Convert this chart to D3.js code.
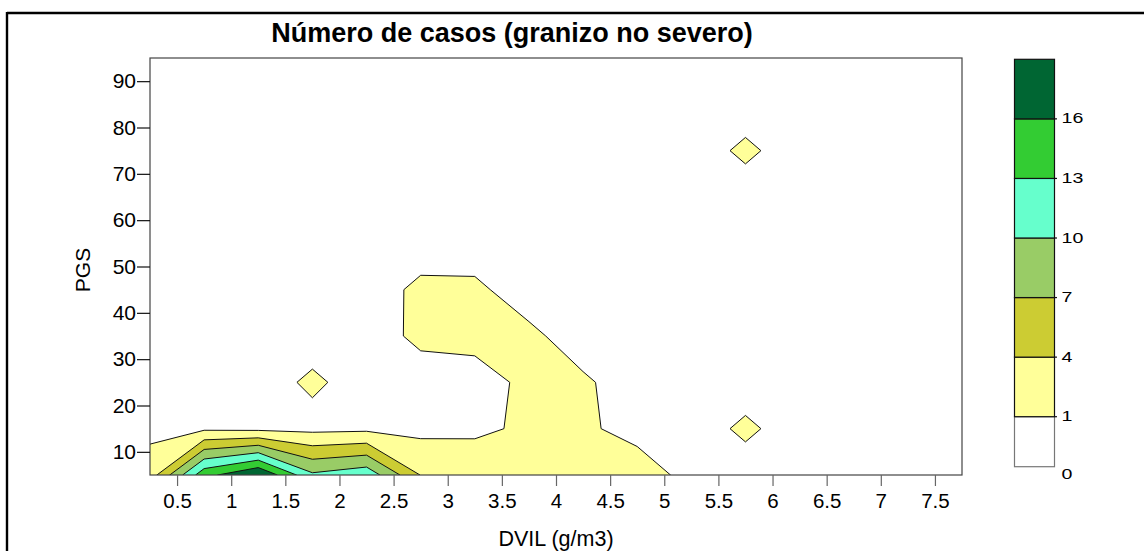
<!DOCTYPE html>
<html>
<head>
<meta charset="utf-8">
<script src="https://cdn.jsdelivr.net/npm/d3@7"></script>
<style>
  body { margin: 0; background: #fff; }
  svg { display: block; font-family: "Liberation Sans", Arial, sans-serif; }
</style>
</head>
<body>
<svg id="chart" width="1144" height="551"></svg>
<script>
// Grid nodes: DVIL (g/m3) columns and PGS rows
const dvil = [0.25, 0.75, 1.25, 1.75, 2.25, 2.75, 3.25, 3.75, 4.25, 4.75, 5.25, 5.75, 6.25, 6.75, 7.25, 7.75];
const pgs = [5, 15, 25, 35, 45, 55, 65, 75, 85, 95];

// Gridded number of cases, one row per PGS value (bottom to top), one value per DVIL column
const pgs05 = [2.4, 15, 19, 10.5, 12, 3.9, 3.5, 3.0, 2.8, 2.6, 0, 0, 0, 0, 0, 0];
const pgs15 = [0.3, 0.5, 0.3, 0.2, 0.35, 0.2, 0.3, 1.6, 1.5, 0, 0, 1.4, 0, 0, 0, 0];
const pgs25 = [0, 0, 0, 1.4, 0, 0, 0, 1.55, 1.3, 0, 0, 0, 0, 0, 0, 0];
const pgs35 = [0, 0, 0, 0, 0, 1.47, 1.75, 1.45, 0, 0, 0, 0, 0, 0, 0, 0];
const pgs45 = [0, 0, 0, 0, 0, 1.45, 1.4, 0, 0, 0, 0, 0, 0, 0, 0, 0];
const pgs55 = [0, 0, 0, 0, 0, 0, 0, 0, 0, 0, 0, 0, 0, 0, 0, 0];
const pgs65 = [0, 0, 0, 0, 0, 0, 0, 0, 0, 0, 0, 0, 0, 0, 0, 0];
const pgs75 = [0, 0, 0, 0, 0, 0, 0, 0, 0, 0, 0, 1.4, 0, 0, 0, 0];
const pgs85 = [0, 0, 0, 0, 0, 0, 0, 0, 0, 0, 0, 0, 0, 0, 0, 0];
const pgs95 = [0, 0, 0, 0, 0, 0, 0, 0, 0, 0, 0, 0, 0, 0, 0, 0];

// Contour levels and their fills
const levels = [1, 4, 7, 10, 13, 16];
const levelColors = ["#ffff99", "#cccc33", "#99cc66", "#66ffcc", "#33cc33", "#006633"];

// Colour key: band edges, colours, labels
const keyEdges = [0, 1, 4, 7, 10, 13, 16, 19];
const keyColors = ["#ffffff", "#ffff99", "#cccc33", "#99cc66", "#66ffcc", "#33cc33", "#006633"];
const keyLabels = ["0", "1", "4", "7", "10", "13", "16"];

// Axis ticks
const xTicks = [0.5, 1, 1.5, 2, 2.5, 3, 3.5, 4, 4.5, 5, 5.5, 6, 6.5, 7, 7.5];
const yTicks = [10, 20, 30, 40, 50, 60, 70, 80, 90];

const titleText = "Número de casos (granizo no severo)";
const xTitle = "DVIL (g/m3)";
const yTitle = "PGS";

const svg = d3.select("#chart");
const plot = { left: 150, top: 58, right: 962, bottom: 475 };

const x = d3.scaleLinear().domain([0.25, 7.75]).range([plot.left, plot.right]);
const y = d3.scaleLinear().domain([5, 95]).range([plot.bottom, plot.top]);

// Outer frame (top and left edges)
svg.append("line").attr("x1", 7).attr("x2", 1144).attr("y1", 13).attr("y2", 13)
  .attr("stroke", "#000").attr("stroke-width", 2.4);
svg.append("line").attr("x1", 7).attr("x2", 7).attr("y1", 12).attr("y2", 551)
  .attr("stroke", "#000").attr("stroke-width", 2.4);

// Title
svg.append("text").attr("x", 512).attr("y", 41.5).attr("text-anchor", "middle")
  .attr("font-size", 27).attr("font-weight", "bold").text(titleText);

// Contour fill
const rows = [pgs05, pgs15, pgs25, pgs35, pgs45, pgs55, pgs65, pgs75, pgs85, pgs95];
const values = rows.flat();
const nx = dvil.length, ny = pgs.length;
const contours = d3.contours().size([nx, ny]).thresholds(levels)(values);

// grid index space -> data -> pixels (node i sits at index coordinate i + 0.5)
const gx = d3.scaleLinear().domain([0.5, nx - 0.5]).range([x(dvil[0]), x(dvil[nx - 1])]);
const gy = d3.scaleLinear().domain([0.5, ny - 0.5]).range([y(pgs[0]), y(pgs[ny - 1])]);
const path = d3.geoPath(d3.geoTransform({
  point(px, py) { this.stream.point(gx(px), gy(py)); }
}));

svg.append("clipPath").attr("id", "plotClip").append("rect")
  .attr("x", plot.left).attr("y", plot.top)
  .attr("width", plot.right - plot.left).attr("height", plot.bottom - plot.top);

const color = d3.scaleOrdinal().domain(levels).range(levelColors);
svg.append("g").attr("clip-path", "url(#plotClip)")
  .selectAll("path").data(contours).join("path")
  .attr("d", path)
  .attr("fill", d => color(d.value))
  .attr("stroke", "#111")
  .attr("stroke-width", 1)
  .attr("stroke-linejoin", "round");

// Plot frame
svg.append("rect").attr("x", plot.left).attr("y", plot.top)
  .attr("width", plot.right - plot.left).attr("height", plot.bottom - plot.top)
  .attr("fill", "none").attr("stroke", "#444").attr("stroke-width", 1.2);

// Axes
const yAxis = svg.append("g").attr("transform", `translate(${plot.left},0)`)
  .call(d3.axisLeft(y).tickValues(yTicks).tickSize(13).tickPadding(1));
yAxis.select(".domain").remove();
yAxis.selectAll(".tick line").attr("stroke", "#111").attr("stroke-width", 1.2);
yAxis.selectAll("text").attr("font-size", 21).attr("fill", "#000")
  .attr("font-family", "Liberation Sans, Arial, sans-serif");

const xAxis = svg.append("g").attr("transform", `translate(0,${plot.bottom})`)
  .call(d3.axisBottom(x).tickValues(xTicks).tickSize(11).tickPadding(7).tickFormat(d => String(d)));
xAxis.select(".domain").remove();
xAxis.selectAll(".tick line").attr("stroke", "#666").attr("stroke-width", 1.2);
xAxis.selectAll("text").attr("font-size", 20.5).attr("fill", "#000")
  .attr("font-family", "Liberation Sans, Arial, sans-serif");

// Axis titles
svg.append("text").attr("transform", "translate(90,270) rotate(-90)")
  .attr("text-anchor", "middle").attr("font-size", 21).text(yTitle);
svg.append("text").attr("x", 556).attr("y", 546).attr("text-anchor", "middle")
  .attr("font-size", 21.5).text(xTitle);

// Colour key
const key = { left: 1014.5, right: 1054.5 };
const ky = d3.scaleLinear().domain([0, 1, 19]).range([466.7, 416.7, 59.3]);
const bands = d3.range(keyColors.length).map(i => ({ lo: keyEdges[i], hi: keyEdges[i + 1], c: keyColors[i] }));
const keyG = svg.append("g");
keyG.selectAll("rect").data(bands).join("rect")
  .attr("x", key.left).attr("width", key.right - key.left)
  .attr("y", d => ky(d.hi)).attr("height", d => ky(d.lo) - ky(d.hi))
  .attr("fill", d => d.c)
  .attr("stroke", d => d.lo === 0 ? "#777" : "#111")
  .attr("stroke-width", 1.2);
keyG.selectAll("line.tick").data(keyEdges.slice(1, -1)).join("line")
  .attr("class", "tick")
  .attr("x1", key.right).attr("x2", key.right + 2.5)
  .attr("y1", d => ky(d)).attr("y2", d => ky(d))
  .attr("stroke", "#111").attr("stroke-width", 1.2);
keyG.selectAll("text").data(keyLabels).join("text")
  .attr("transform", (d, i) => `translate(${key.right + 7},${ky(keyEdges[i]) + (i === 0 ? 8 : 0)}) scale(1.4,1)`)
  .attr("dominant-baseline", "central")
  .attr("font-size", 14).text(d => d);
</script>
</body>
</html>
